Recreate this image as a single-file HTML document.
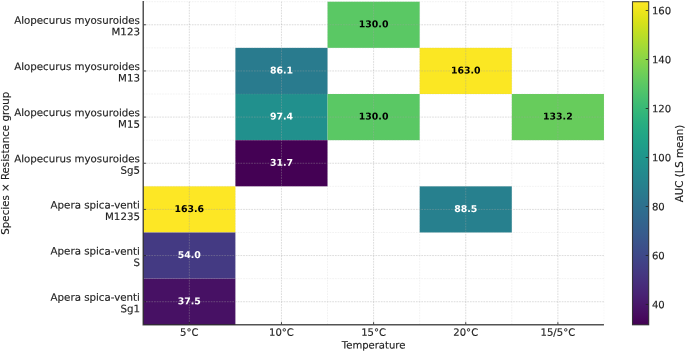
<!DOCTYPE html>
<html lang="en"><head><meta charset="utf-8"><title>AUC heatmap</title>
<style>html,body{margin:0;padding:0;background:#fff}svg{display:block}text{font-family:"DejaVu Sans","Liberation Sans",sans-serif}</style></head><body>
<svg width="685" height="352" viewBox="0 0 685 352">
<rect width="685" height="352" fill="#fff"/>
<defs><linearGradient id="vg" x1="0" y1="0" x2="0" y2="1"><stop offset="0%" stop-color="#fde725"/><stop offset="3.12%" stop-color="#ece51b"/><stop offset="6.25%" stop-color="#d8e219"/><stop offset="9.38%" stop-color="#c2df23"/><stop offset="12.5%" stop-color="#addc30"/><stop offset="15.62%" stop-color="#98d83e"/><stop offset="18.75%" stop-color="#84d44b"/><stop offset="21.88%" stop-color="#70cf57"/><stop offset="25%" stop-color="#5ec962"/><stop offset="28.12%" stop-color="#4ec36b"/><stop offset="31.25%" stop-color="#3fbc73"/><stop offset="34.38%" stop-color="#32b67a"/><stop offset="37.5%" stop-color="#28ae80"/><stop offset="40.62%" stop-color="#22a785"/><stop offset="43.75%" stop-color="#1fa088"/><stop offset="46.88%" stop-color="#1f988b"/><stop offset="50%" stop-color="#21918c"/><stop offset="53.12%" stop-color="#23898e"/><stop offset="56.25%" stop-color="#26828e"/><stop offset="59.38%" stop-color="#297a8e"/><stop offset="62.5%" stop-color="#2c728e"/><stop offset="65.62%" stop-color="#2f6b8e"/><stop offset="68.75%" stop-color="#33638d"/><stop offset="71.88%" stop-color="#375b8d"/><stop offset="75%" stop-color="#3b528b"/><stop offset="78.12%" stop-color="#3e4989"/><stop offset="81.25%" stop-color="#424086"/><stop offset="84.38%" stop-color="#453781"/><stop offset="87.5%" stop-color="#472d7b"/><stop offset="90.62%" stop-color="#482374"/><stop offset="93.75%" stop-color="#48186a"/><stop offset="96.88%" stop-color="#470d60"/><stop offset="100%" stop-color="#440154"/></linearGradient></defs>
<g>
<rect x="327.53" y="1.7" width="92.14" height="46.16" fill="#5ac864"/>
<rect x="235.39" y="47.86" width="92.14" height="46.16" fill="#297b8e"/>
<rect x="419.67" y="47.86" width="92.14" height="46.16" fill="#fbe723"/>
<rect x="235.39" y="94.01" width="92.14" height="46.16" fill="#21908d"/>
<rect x="327.53" y="94.01" width="92.14" height="46.16" fill="#5ac864"/>
<rect x="511.81" y="94.01" width="92.14" height="46.16" fill="#67cc5c"/>
<rect x="235.39" y="140.17" width="92.14" height="46.16" fill="#440154"/>
<rect x="143.25" y="186.33" width="92.14" height="46.16" fill="#fde725"/>
<rect x="419.67" y="186.33" width="92.14" height="46.16" fill="#27808e"/>
<rect x="143.25" y="232.49" width="92.14" height="46.16" fill="#443a83"/>
<rect x="143.25" y="278.64" width="92.14" height="46.16" fill="#471164"/>
</g>
<g stroke="#a4a4a4" stroke-opacity="0.27" stroke-width="0.55" stroke-dasharray="1.7 1" fill="none">
<line x1="235.39" y1="1.7" x2="235.39" y2="324.8"/>
<line x1="327.53" y1="1.7" x2="327.53" y2="324.8"/>
<line x1="419.67" y1="1.7" x2="419.67" y2="324.8"/>
<line x1="511.81" y1="1.7" x2="511.81" y2="324.8"/>
<line x1="603.95" y1="1.7" x2="603.95" y2="324.8" stroke-opacity="0.12"/>
<line x1="143.25" y1="1.7" x2="603.95" y2="1.7"/>
<line x1="143.25" y1="47.86" x2="603.95" y2="47.86"/>
<line x1="143.25" y1="94.01" x2="603.95" y2="94.01"/>
<line x1="143.25" y1="140.17" x2="603.95" y2="140.17"/>
<line x1="143.25" y1="186.33" x2="603.95" y2="186.33"/>
<line x1="143.25" y1="232.49" x2="603.95" y2="232.49"/>
<line x1="143.25" y1="278.64" x2="603.95" y2="278.64"/>
</g>
<g stroke="#a4a4a4" stroke-opacity="0.7" stroke-width="0.55" stroke-dasharray="1.7 1" fill="none">
<line x1="189.32" y1="1.7" x2="189.32" y2="324.8"/>
<line x1="281.46" y1="1.7" x2="281.46" y2="324.8"/>
<line x1="373.6" y1="1.7" x2="373.6" y2="324.8"/>
<line x1="465.74" y1="1.7" x2="465.74" y2="324.8"/>
<line x1="557.88" y1="1.7" x2="557.88" y2="324.8"/>
<line x1="143.25" y1="24.78" x2="603.95" y2="24.78"/>
<line x1="143.25" y1="70.94" x2="603.95" y2="70.94"/>
<line x1="143.25" y1="117.09" x2="603.95" y2="117.09"/>
<line x1="143.25" y1="163.25" x2="603.95" y2="163.25"/>
<line x1="143.25" y1="209.41" x2="603.95" y2="209.41"/>
<line x1="143.25" y1="255.56" x2="603.95" y2="255.56"/>
<line x1="143.25" y1="301.72" x2="603.95" y2="301.72"/>
</g>
<g stroke="#222222" stroke-width="1.5" stroke-opacity="0.78" fill="none">
<line x1="143.25" y1="1" x2="143.25" y2="325.55"/>
<line x1="144" y1="324.8" x2="603.95" y2="324.8"/>
</g>
<g stroke="#222222" stroke-width="0.9" stroke-opacity="0.9" fill="none">
<line x1="189.32" y1="324.05" x2="189.32" y2="322.1"/>
<line x1="281.46" y1="324.05" x2="281.46" y2="322.1"/>
<line x1="373.6" y1="324.05" x2="373.6" y2="322.1"/>
<line x1="465.74" y1="324.05" x2="465.74" y2="322.1"/>
<line x1="557.88" y1="324.05" x2="557.88" y2="322.1"/>
<line x1="144" y1="24.78" x2="145.95" y2="24.78"/>
<line x1="144" y1="70.94" x2="145.95" y2="70.94"/>
<line x1="144" y1="117.09" x2="145.95" y2="117.09"/>
<line x1="144" y1="163.25" x2="145.95" y2="163.25"/>
<line x1="144" y1="209.41" x2="145.95" y2="209.41"/>
<line x1="144" y1="255.56" x2="145.95" y2="255.56"/>
<line x1="144" y1="301.72" x2="145.95" y2="301.72"/>
</g>
<g font-size="9.4" font-weight="bold" text-anchor="middle">
<text transform="translate(373.6 27.28) rotate(0.05)" fill="#000000">130.0</text>
<text transform="translate(281.46 73.44) rotate(0.05)" fill="#ffffff">86.1</text>
<text transform="translate(465.74 73.44) rotate(0.05)" fill="#000000">163.0</text>
<text transform="translate(281.46 119.59) rotate(0.05)" fill="#ffffff">97.4</text>
<text transform="translate(373.6 119.59) rotate(0.05)" fill="#000000">130.0</text>
<text transform="translate(557.88 119.59) rotate(0.05)" fill="#000000">133.2</text>
<text transform="translate(281.46 165.75) rotate(0.05)" fill="#ffffff">31.7</text>
<text transform="translate(189.32 211.91) rotate(0.05)" fill="#000000">163.6</text>
<text transform="translate(465.74 211.91) rotate(0.05)" fill="#ffffff">88.5</text>
<text transform="translate(189.32 258.06) rotate(0.05)" fill="#ffffff">54.0</text>
<text transform="translate(189.32 304.22) rotate(0.05)" fill="#ffffff">37.5</text>
</g>
<g font-size="10.25" fill="#1f1f1f" stroke="#1f1f1f" stroke-width="0.15" text-anchor="end">
<text transform="translate(139.95 23.88) rotate(0.05)">Alopecurus myosuroides</text>
<text transform="translate(139.95 35.33) rotate(0.05)">M123</text>
<text transform="translate(139.95 70.04) rotate(0.05)">Alopecurus myosuroides</text>
<text transform="translate(139.95 81.49) rotate(0.05)">M13</text>
<text transform="translate(139.95 116.19) rotate(0.05)">Alopecurus myosuroides</text>
<text transform="translate(139.95 127.64) rotate(0.05)">M15</text>
<text transform="translate(139.95 162.35) rotate(0.05)">Alopecurus myosuroides</text>
<text transform="translate(139.95 173.8) rotate(0.05)">Sg5</text>
<text transform="translate(139.95 208.51) rotate(0.05)">Apera spica-venti</text>
<text transform="translate(139.95 219.96) rotate(0.05)">M1235</text>
<text transform="translate(139.95 254.66) rotate(0.05)">Apera spica-venti</text>
<text transform="translate(139.95 266.11) rotate(0.05)">S</text>
<text transform="translate(139.95 300.82) rotate(0.05)">Apera spica-venti</text>
<text transform="translate(139.95 312.27) rotate(0.05)">Sg1</text>
</g>
<g font-size="10.25" fill="#1f1f1f" stroke="#1f1f1f" stroke-width="0.15" text-anchor="middle">
<text transform="translate(189.32 335.65) rotate(0.05)" font-size="10.05">5°C</text>
<text transform="translate(281.46 335.65) rotate(0.05)" font-size="10.05">10°C</text>
<text transform="translate(373.6 335.65) rotate(0.05)" font-size="10.05">15°C</text>
<text transform="translate(465.74 335.65) rotate(0.05)" font-size="10.05">20°C</text>
<text transform="translate(557.88 335.65) rotate(0.05)" font-size="10.05">15/5°C</text>
<text transform="translate(373.6 348.5) rotate(0.05)" font-size="10.05">Temperature</text>
<text transform="translate(8.95 163.25) rotate(-90)" font-size="10.25">Species × Resistance group</text>
</g>
<rect x="632.5" y="1.7" width="16.2" height="323.1" fill="url(#vg)"/>
<rect x="632.5" y="1.7" width="16.2" height="323.1" fill="none" stroke="#222222" stroke-opacity="0.85" stroke-width="1.1"/>
<g stroke="#222222" stroke-width="0.9" stroke-opacity="0.9">
<line x1="648.2" y1="304.47" x2="645.7" y2="304.47"/>
<line x1="648.2" y1="255.48" x2="645.7" y2="255.48"/>
<line x1="648.2" y1="206.49" x2="645.7" y2="206.49"/>
<line x1="648.2" y1="157.49" x2="645.7" y2="157.49"/>
<line x1="648.2" y1="108.5" x2="645.7" y2="108.5"/>
<line x1="648.2" y1="59.51" x2="645.7" y2="59.51"/>
<line x1="648.2" y1="10.52" x2="645.7" y2="10.52"/>
</g>
<g font-size="10.1" fill="#1f1f1f" stroke="#1f1f1f" stroke-width="0.15">
<text transform="translate(651.9 308.17) rotate(0.05)">40</text>
<text transform="translate(651.9 259.18) rotate(0.05)">60</text>
<text transform="translate(651.9 210.19) rotate(0.05)">80</text>
<text transform="translate(651.9 161.19) rotate(0.05)">100</text>
<text transform="translate(651.9 112.2) rotate(0.05)">120</text>
<text transform="translate(651.9 63.21) rotate(0.05)">140</text>
<text transform="translate(651.9 14.22) rotate(0.05)">160</text>
<text transform="translate(682.5 163.55) rotate(-90)" text-anchor="middle" font-size="10.25">AUC (LS mean)</text>
</g>
</svg></body></html>
